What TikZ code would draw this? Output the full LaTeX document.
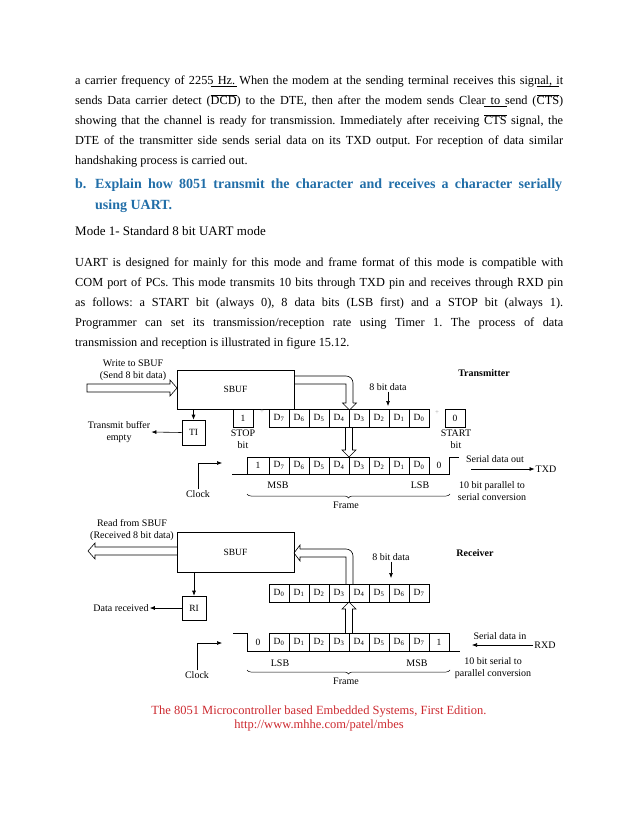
\documentclass[tikz,border=0pt]{standalone}
\usepackage{fontspec}
\setmainfont{Liberation Serif}
\usetikzlibrary{arrows.meta, decorations.pathreplacing, calc, positioning}

\definecolor{qblue}{RGB}{33,110,168}
\definecolor{srcred}{RGB}{204,40,46}

\newsavebox\ovlbox
\newcommand\ovl[1]{\sbox\ovlbox{#1}\rlap{\rule[18pt]{\wd\ovlbox}{0.6pt}}\rlap{\rule[9.8pt]{\wd\ovlbox}{0.6pt}}\usebox\ovlbox}
\newcommand\jline[1]{\makebox[488pt][s]{#1}}
\frenchspacing

\begin{document}
\begin{tikzpicture}[x=1pt, y=-1pt,
	txt/.style={anchor=base west, inner sep=0pt, font=\fontsize{12.3}{14}\selectfont},
	head/.style={anchor=base west, inner sep=0pt, text=qblue, font=\bfseries\fontsize{14}{16}\selectfont},
	lbl/.style={inner sep=1pt, align=center, font=\fontsize{10}{12.5}\selectfont},
	blk/.style={draw, line width=0.6pt, inner sep=0pt, font=\fontsize{9.5}{11}\selectfont},
	bitlbl/.style={inner sep=0pt, font=\fontsize{9.5}{11}\selectfont},
	wire/.style={line width=0.6pt},
	pipe/.style={line width=0.6pt, line join=miter},
	arr/.style={-{Latex[length=5pt, width=4pt]}, line width=0.6pt},
	plus/.style={inner sep=0pt, text=black!35, font=\fontsize{7}{8}\selectfont},
	frm/.style={decorate, decoration={brace, mirror, amplitude=4pt}, line width=0.5pt}]
	\useasboundingbox (0,0) rectangle (638,826);
	\def\cell#1#2#3#4{\draw[wire] (#1,#2) rectangle ++(20,18); \node[bitlbl] (#4) at (#1+10,#2+9) {#3};}

	% page text
	\node[txt] (p1) at (75,85) {\jline{a carrier frequency of 2255 Hz. When the modem at the sending terminal receives this signal, it}};
	\node[txt] (p2) at (75,105) {\jline{sends Data carrier detect (\ovl{DCD}) to the DTE, then after the modem sends Clear to send (\ovl{CTS})}};
	\node[txt] (p3) at (75,125) {\jline{showing that the channel is ready for transmission. Immediately after receiving \ovl{CTS} signal, the}};
	\node[txt] (p4) at (75,145) {\jline{DTE of the transmitter side sends serial data on its TXD output. For reception of data similar}};
	\node[txt] (p5) at (75,165) {handshaking process is carried out.};

	\node[head] (hb) at (75,189) {b.};
	\node[head] (h1) at (95,189) {\makebox[467pt][s]{Explain how 8051 transmit the character and receives a character serially}};
	\node[head] (h2) at (95,210) {using UART.};

	\node[txt, font=\fontsize{13}{14}\selectfont] (mode) at (75,236) {Mode 1- Standard 8 bit UART mode};

	\node[txt] (q1) at (75,266) {\jline{UART is designed for mainly for this mode and frame format of this mode is compatible with}};
	\node[txt] (q2) at (75,286) {\jline{COM port of PCs. This mode transmits 10 bits through TXD pin and receives through RXD pin}};
	\node[txt] (q3) at (75,306) {\jline{as follows: a START bit (always 0), 8 data bits (LSB first) and a STOP bit (always 1).}};
	\node[txt] (q4) at (75,326) {\jline{Programmer can set its transmission/reception rate using Timer 1. The process of data}};
	\node[txt] (q5) at (75,346) {transmission and reception is illustrated in figure 15.12.};

	% transmitter
	\node[lbl] (wsb) at (133,370.5) {Write to SBUF\\(Send 8 bit data)};
	\node[blk, minimum width=117pt, minimum height=39pt] (sbufT) at (235.5,389.5) {SBUF};
	\draw[pipe] (87,384) -- (170,384) -- (170,380) -- (177,388) -- (170,396) -- (170,392) -- (87,392) -- cycle;
	\draw[pipe, rounded corners=7pt] (294,376) -- (353,376) -- (353,403);
	\draw[pipe] (353,403) -- (356.5,403) -- (349.5,410) -- (342.5,403) -- (346,403) -- (346,384) -- (294,384);
	\node[lbl, font=\bfseries\fontsize{10}{12}\selectfont] (ttl) at (484,373) {Transmitter};
	\node[lbl] (bdT) at (388,387) {8 bit data};
	\coordinate (bdTend) at (388,406);
	\draw[arr] (bdT) -- (bdTend);

	\cell{233}{409}{1}{stopb}
	\node[plus] (plT1) at (262,412) {+};
	\foreach \i in {0,...,7} {
		\pgfmathtruncatemacro\k{7-\i}
		\cell{269+20*\i}{409}{D\textsubscript{\k}}{td\k}
	}
	\node[plus] (plT2) at (437,413) {+};
	\cell{445}{409}{0}{startb}
	\node[lbl] (stopl) at (243,439) {STOP\\bit};
	\node[lbl] (startl) at (456,439) {START\\bit};

	\node[blk, minimum width=23pt, minimum height=25pt] (ti) at (193.5,432.5) {TI};
	\draw[arr] (ti.north |- sbufT.south) -- (ti.north);
	\node[lbl] (tbe) at (119,432) {Transmit buffer\\empty};
	\draw[arr] (ti.west) -- (tbe.east);

	\draw[pipe] (345.5,427) -- (345.5,450) -- (342,450) -- (349,457) -- (356,450) -- (352.5,450) -- (352.5,427);

	\draw[wire] (232,474) -- (449,474) -- (449,457) -- (459,457);
	\draw[wire] (247,474) -- (247,457) -- (429,457);
	\foreach \i in {0,...,8} \draw[wire] (269+20*\i,457) -- (269+20*\i,474);
	\node[bitlbl] (tf1) at (258,465.5) {1};
	\foreach \i in {0,...,7} {
		\pgfmathtruncatemacro\k{7-\i}
		\node[bitlbl] (tf\k) at (279+20*\i,465.5) {D\textsubscript{\k}};
	}
	\node[bitlbl] (tf0s) at (439,465.5) {0};

	\node[lbl] (clkT) at (198,494) {Clock};
	\coordinate (clkTend) at (222,463);
	\draw[arr] (clkT.north) |- (clkTend);

	\node[lbl] (msbT) at (278,485) {MSB};
	\node[lbl] (lsbT) at (420,485) {LSB};
	\draw[frm] (247,494) -- (450,494);
	\node[lbl] (frT) at (346,505) {Frame};

	\node[lbl] (sdo) at (495,459) {Serial data out};
	\node[lbl] (txd) at (546,469) {TXD};
	\coordinate (sdoS) at (471,469);
	\draw[arr] (sdoS) -- (txd.west);
	\node[lbl] (p2s) at (492,491) {10 bit parallel to\\serial conversion};

	% receiver
	\node[lbl] (rsb) at (132,530) {Read from SBUF\\(Received 8 bit data)};
	\node[blk, minimum width=117pt, minimum height=40pt] (sbufR) at (235.5,552) {SBUF};
	\draw[pipe] (177,547) -- (95,547) -- (95,543) -- (88,551) -- (95,559) -- (95,555) -- (177,555);
	\draw[pipe, rounded corners=7pt] (353,584) -- (353,549) -- (300,549);
	\draw[pipe] (300,549) -- (300,545) -- (294,553) -- (300,561) -- (300,557) -- (346,557) -- (346,584);
	\node[lbl, font=\bfseries\fontsize{10}{12}\selectfont] (rcv) at (475,553) {Receiver};
	\node[lbl] (bdR) at (391,557) {8 bit data};
	\coordinate (bdRend) at (391,578);
	\draw[arr] (bdR) -- (bdRend);

	\foreach \i in {0,...,7} {
		\cell{269+20*\i}{584}{D\textsubscript{\i}}{rd\i}
	}

	\node[blk, minimum width=24pt, minimum height=24pt] (ri) at (194,608) {RI};
	\draw[arr] (ri.north |- sbufR.south) -- (ri.north);
	\node[lbl] (drc) at (121,608) {Data received};
	\draw[arr] (ri.west) -- (drc.east);

	\draw[pipe] (345.5,633) -- (345.5,609) -- (342,609) -- (349,602) -- (356,609) -- (352.5,609) -- (352.5,633);

	\draw[wire] (233,633) -- (247,633) -- (247,651) -- (460,651);
	\draw[wire] (269,633) -- (449,633) -- (449,651);
	\foreach \i in {0,...,8} \draw[wire] (269+20*\i,633) -- (269+20*\i,651);
	\node[bitlbl] (rf0s) at (258,642) {0};
	\foreach \i in {0,...,7} {
		\node[bitlbl] (rf\i) at (279+20*\i,642) {D\textsubscript{\i}};
	}
	\node[bitlbl] (rf1s) at (439,642) {1};

	\node[lbl] (clkR) at (197,675) {Clock};
	\coordinate (clkRend) at (222,643);
	\draw[arr] (clkR.north) |- (clkRend);

	\node[lbl] (lsbR) at (280,663) {LSB};
	\node[lbl] (msbR) at (417,663) {MSB};
	\draw[frm] (247,670) -- (450,670);
	\node[lbl] (frR) at (346,681) {Frame};

	\node[lbl] (sdi) at (500,636) {Serial data in};
	\node[lbl] (rxd) at (545,645) {RXD};
	\coordinate (sdiE) at (472,645);
	\draw[arr] (rxd.west) -- (sdiE);
	\node[lbl] (s2p) at (493,668) {10 bit serial to\\parallel conversion};

	% source line
	\node[lbl, text=srcred, font=\fontsize{12.5}{13.5}\selectfont] (src) at (319,718.5) {The 8051 Microcontroller based Embedded Systems, First Edition.\\http://www.mhhe.com/patel/mbes};
\end{tikzpicture}
\end{document}
